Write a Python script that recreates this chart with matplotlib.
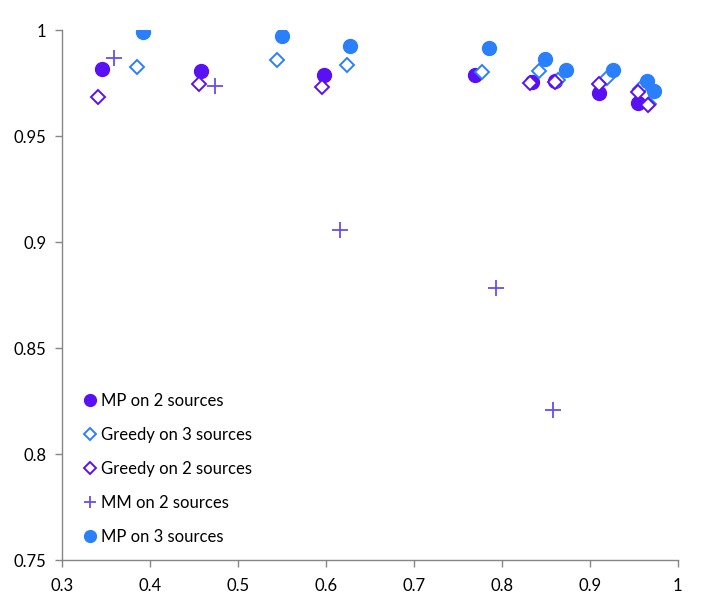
import matplotlib
matplotlib.use("Agg")
import matplotlib.pyplot as plt

plt.rcParams['font.family'] = ['Lato', 'DejaVu Sans']

# Data (x, y)
mp2_x = [0.3455, 0.458, 0.598, 0.770, 0.834, 0.861, 0.911, 0.9545]
mp2_y = [0.9816, 0.9807, 0.9788, 0.9788, 0.9755, 0.9760, 0.9703, 0.9656]

greedy3_x = [0.385, 0.544, 0.624, 0.778, 0.842, 0.864, 0.919, 0.957, 0.967]
greedy3_y = [0.9825, 0.9858, 0.9835, 0.9802, 0.9807, 0.9764, 0.9774, 0.9722, 0.9651]

greedy2_x = [0.341, 0.4557, 0.5955, 0.832, 0.860, 0.911, 0.9545, 0.966]
greedy2_y = [0.9684, 0.9745, 0.9731, 0.9750, 0.9755, 0.9745, 0.9708, 0.9646]

mm2_x = [0.359, 0.474, 0.616, 0.793, 0.858]
mm2_y = [0.9868, 0.9736, 0.9057, 0.8783, 0.8208]

mp3_x = [0.392, 0.550, 0.627, 0.785, 0.849, 0.873, 0.926, 0.965, 0.973]
mp3_y = [0.9991, 0.9972, 0.9925, 0.9915, 0.9863, 0.9811, 0.9811, 0.9760, 0.9712]

labels = ["MP on 2 sources", "Greedy on 3 sources", "Greedy on 2 sources",
          "MM on 2 sources", "MP on 3 sources"]

x_ticks = [0.3, 0.4, 0.5, 0.6, 0.7, 0.8, 0.9, 1.0]
x_tick_labels = ["0.3", "0.4", "0.5", "0.6", "0.7", "0.8", "0.9", "1"]
y_ticks = [0.75, 0.8, 0.85, 0.9, 0.95, 1.0]
y_tick_labels = ["0.75", "0.8", "0.85", "0.9", "0.95", "1"]

purple = "#5A10F5"
blue = "#2A80FA"
plus_col = "#6A4CF2"

fig = plt.figure(figsize=(7.06, 6.15), dpi=100)
ax = fig.add_axes([0.0878, 0.0894, 0.8722, 0.8618])

ax.plot(mp2_x, mp2_y, linestyle='none', marker='o', markersize=10,
        color=purple, markeredgecolor=purple, label=labels[0])
ax.plot(greedy3_x, greedy3_y, linestyle='none', marker='D', markersize=7.5,
        markerfacecolor='white', markeredgecolor=blue, markeredgewidth=1.4,
        label=labels[1])
ax.plot(greedy2_x, greedy2_y, linestyle='none', marker='D', markersize=7.5,
        markerfacecolor='white', markeredgecolor=purple, markeredgewidth=1.4,
        label=labels[2])
ax.plot(mm2_x, mm2_y, linestyle='none', marker='+', markersize=11,
        markeredgewidth=1.3, color=plus_col, label=labels[3])
ax.plot(mp3_x, mp3_y, linestyle='none', marker='o', markersize=10,
        color=blue, markeredgecolor=blue, label=labels[4])

ax.set_xlim(0.3, 1.0)
ax.set_ylim(0.75, 1.0)
ax.set_xticks(x_ticks)
ax.set_xticklabels(x_tick_labels)
ax.set_yticks(y_ticks)
ax.set_yticklabels(y_tick_labels)

for s in ['top', 'right']:
    ax.spines[s].set_visible(False)
for s in ['left', 'bottom']:
    ax.spines[s].set_color('#868686')
    ax.spines[s].set_linewidth(1.0)
ax.tick_params(axis='both', direction='out', length=5, color='#868686',
               labelsize=12, labelcolor='black', width=1.0)
ax.tick_params(axis='x', pad=8)
ax.tick_params(axis='y', pad=6)

leg = ax.legend(loc='upper left', bbox_to_anchor=(0.025, 0.328), frameon=False,
                fontsize=12, labelspacing=1.08, handlelength=0.7,
                handletextpad=0.3, borderaxespad=0, markerscale=0.85)

fig.savefig("out.png", dpi=100)
